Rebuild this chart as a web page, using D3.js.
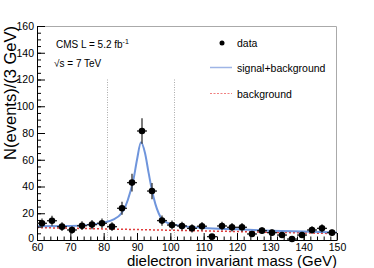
<!DOCTYPE html>
<html>
<head>
<meta charset="utf-8">
<script src="https://cdn.jsdelivr.net/npm/d3@7"></script>
<style>
  body { margin: 0; background: #fff; }
  text { font-family: "Liberation Sans", Arial, sans-serif; }
</style>
</head>
<body>
<script>
// bin centres (3 GeV bins) and counts
var binCenters = [61.5, 64.5, 67.5, 70.5, 73.5, 76.5, 79.5, 82.5, 85.5, 88.5,
                  91.5, 94.5, 97.5, 100.5, 103.5, 106.5, 109.5, 112.5, 115.5, 118.5,
                  121.5, 124.5, 127.5, 130.5, 133.5, 136.5, 139.5, 142.5, 145.5, 148.5];
var counts = [12.5, 14.4, 10, 7.5, 10.7, 11.5, 12.5, 10, 23.7, 42.9,
              81.5, 36.6, 14.5, 11.2, 10.5, 8.7, 10.3, 2.5, 10.5, 9.5,
              9.5, 4.5, 7, 5.5, 3.7, 0.7, 3.7, 7.5, 8.7, 5.5];
var errors = [3.6, 3.8, 3.2, 2.8, 3.3, 3.5, 3.6, 3.2, 4.9, 6.6,
              9.5, 6.1, 3.9, 3.3, 3.2, 3.0, 3.2, 1.7, 3.2, 3.2,
              3.2, 2.2, 2.6, 2.4, 2.0, 1.0, 2.0, 2.8, 3.0, 2.4];
var halfBin = 1.5;

// signal+background fit curve
var fitMass = [60, 70, 76, 80, 83, 85, 86.5, 88, 89, 90, 91.2, 92.4, 93.5, 94.5, 95.5, 96.5, 97.5, 99, 101, 105, 110, 120, 130, 140, 150];
var fitVal  = [10.3, 10.5, 11.5, 13, 15.5, 19, 25, 36, 46, 60, 73, 65, 50, 37, 27, 20, 15.5, 13, 11.5, 10, 9, 8, 7, 6.3, 5.7];

// background only
var bkgMass = [60, 150];
var bkgVal  = [9.3, 4.8];

// window lines
var windowLines = [81, 101];

var xTicks = [60, 70, 80, 90, 100, 110, 120, 130, 140, 150];
var yTicks = [0, 20, 40, 60, 80, 100, 120, 140, 160];

var margin = {top: 26, right: 37, bottom: 28, left: 37},
    width = 374 - margin.left - margin.right,
    height = 268 - margin.top - margin.bottom;

var x = d3.scaleLinear().domain([60, 150]).range([0, width]);
var y = d3.scaleLinear().domain([0, 160]).range([height, 0]);

var svg = d3.select("body").append("svg")
    .attr("width", 374)
    .attr("height", 268);

var g = svg.append("g")
    .attr("transform", "translate(" + margin.left + "," + margin.top + ")");

// frame top and right (grey)
g.append("path")
    .attr("d", "M0,0.5H" + (width - 0.5) + "V" + height)
    .attr("fill", "none")
    .attr("stroke", "#aaa")
    .attr("stroke-width", 1);

// window lines
g.selectAll(".win")
  .data(windowLines)
  .enter().append("line")
    .attr("class", "win")
    .attr("x1", function(d) { return Math.round(x(d)) + 0.5; })
    .attr("x2", function(d) { return Math.round(x(d)) + 0.5; })
    .attr("y1", y(120))
    .attr("y2", y(0))
    .attr("stroke", "#aaa")
    .attr("stroke-width", 1)
    .attr("stroke-dasharray", "1,1.5");

// background line
var bkgLine = d3.line()
    .x(function(d, i) { return x(bkgMass[i]); })
    .y(function(d) { return y(d); });
g.append("path")
    .attr("d", bkgLine(bkgVal))
    .attr("fill", "none")
    .attr("stroke", "#e03a3a")
    .attr("stroke-width", 1.5)
    .attr("stroke-dasharray", "2,2");

// fit line
var fitLine = d3.line()
    .x(function(d, i) { return x(fitMass[i]); })
    .y(function(d) { return y(d); })
    .curve(d3.curveMonotoneX);
g.append("path")
    .attr("d", fitLine(fitVal))
    .attr("fill", "none")
    .attr("stroke", "#6f95dc")
    .attr("stroke-width", 2);

// axes
var xMinor = d3.range(60, 150.1, 2);
var yMinor = d3.range(0, 160.1, 5);

g.append("g")
    .attr("transform", "translate(0," + height + ")")
    .call(d3.axisBottom(x).tickValues(xMinor).tickSize(-3.5).tickFormat(""))
    .call(function(a) { a.select(".domain").remove(); });
var xAxis = g.append("g")
    .attr("transform", "translate(0," + height + ")")
    .call(d3.axisBottom(x).tickValues(xTicks).tickSize(-7).tickSizeOuter(0).tickPadding(4).tickFormat(d3.format("d")));
xAxis.selectAll("text").style("font-size", "10.5px").attr("fill", "#000");

g.append("g")
    .call(d3.axisLeft(y).tickValues(yMinor).tickSize(-4).tickFormat(""))
    .call(function(a) { a.select(".domain").remove(); });
var yAxis = g.append("g")
    .call(d3.axisLeft(y).tickValues(yTicks).tickSize(-8).tickSizeOuter(0).tickPadding(3).tickFormat(d3.format("d")));
yAxis.selectAll("text").style("font-size", "10.5px").attr("fill", "#000");
yAxis.selectAll(".tick").filter(function(d) { return d === 0; })
    .select("text").attr("dy", "0.12em");

// data error bars
var pts = g.selectAll(".pt")
  .data(counts)
  .enter().append("g")
    .attr("class", "pt");
pts.append("line")
    .attr("x1", function(d, i) { return x(binCenters[i] - halfBin); })
    .attr("x2", function(d, i) { return x(binCenters[i] + halfBin); })
    .attr("y1", function(d) { return y(d); })
    .attr("y2", function(d) { return y(d); })
    .attr("stroke", "#222")
    .attr("stroke-width", 1.3);
pts.append("line")
    .attr("x1", function(d, i) { return x(binCenters[i]); })
    .attr("x2", function(d, i) { return x(binCenters[i]); })
    .attr("y1", function(d, i) { return y(Math.max(0, d - errors[i])); })
    .attr("y2", function(d, i) { return y(d + errors[i]); })
    .attr("stroke", "#333")
    .attr("stroke-width", 1.3);
pts.append("circle")
    .attr("cx", function(d, i) { return x(binCenters[i]); })
    .attr("cy", function(d) { return y(d); })
    .attr("r", 3.3)
    .attr("fill", "#000");

// axis titles
svg.append("text")
    .attr("x", margin.left + width)
    .attr("y", 266)
    .attr("text-anchor", "end")
    .style("font-size", "15px")
    .text("dielectron invariant mass (GeV)");

svg.append("text")
    .attr("transform", "translate(16," + margin.top + ") rotate(-90)")
    .attr("text-anchor", "end")
    .style("font-size", "16.5px")
    .text("N(events)/(3 GeV)");

// CMS labels
var cms = svg.append("text")
    .attr("x", 56)
    .attr("y", 48)
    .style("font-size", "10px");
cms.append("tspan").text("CMS L = 5.2 fb");
cms.append("tspan").attr("dy", -4).style("font-size", "7px").text("-1");

svg.append("text")
    .attr("x", 54)
    .attr("y", 67)
    .style("font-size", "10px")
    .text("\u221As = 7 TeV");

// legend
svg.append("circle")
    .attr("cx", 222)
    .attr("cy", 43)
    .attr("r", 2.5)
    .attr("fill", "#000");
svg.append("line")
    .attr("x1", 210).attr("x2", 232)
    .attr("y1", 67.5).attr("y2", 67.5)
    .attr("stroke", "#9fb5e6")
    .attr("stroke-width", 1.5);
svg.append("line")
    .attr("x1", 210).attr("x2", 232)
    .attr("y1", 93.5).attr("y2", 93.5)
    .attr("stroke", "#f07f7f")
    .attr("stroke-width", 1.2)
    .attr("stroke-dasharray", "2,1.5");

var legendLabels = ["data", "signal+background", "background"];
svg.selectAll(".leg")
  .data(legendLabels)
  .enter().append("text")
    .attr("class", "leg")
    .attr("x", 237)
    .attr("y", function(d, i) { return 46.5 + i * 25.5; })
    .style("font-size", "10.5px")
    .text(function(d) { return d; });
</script>
</body>
</html>
